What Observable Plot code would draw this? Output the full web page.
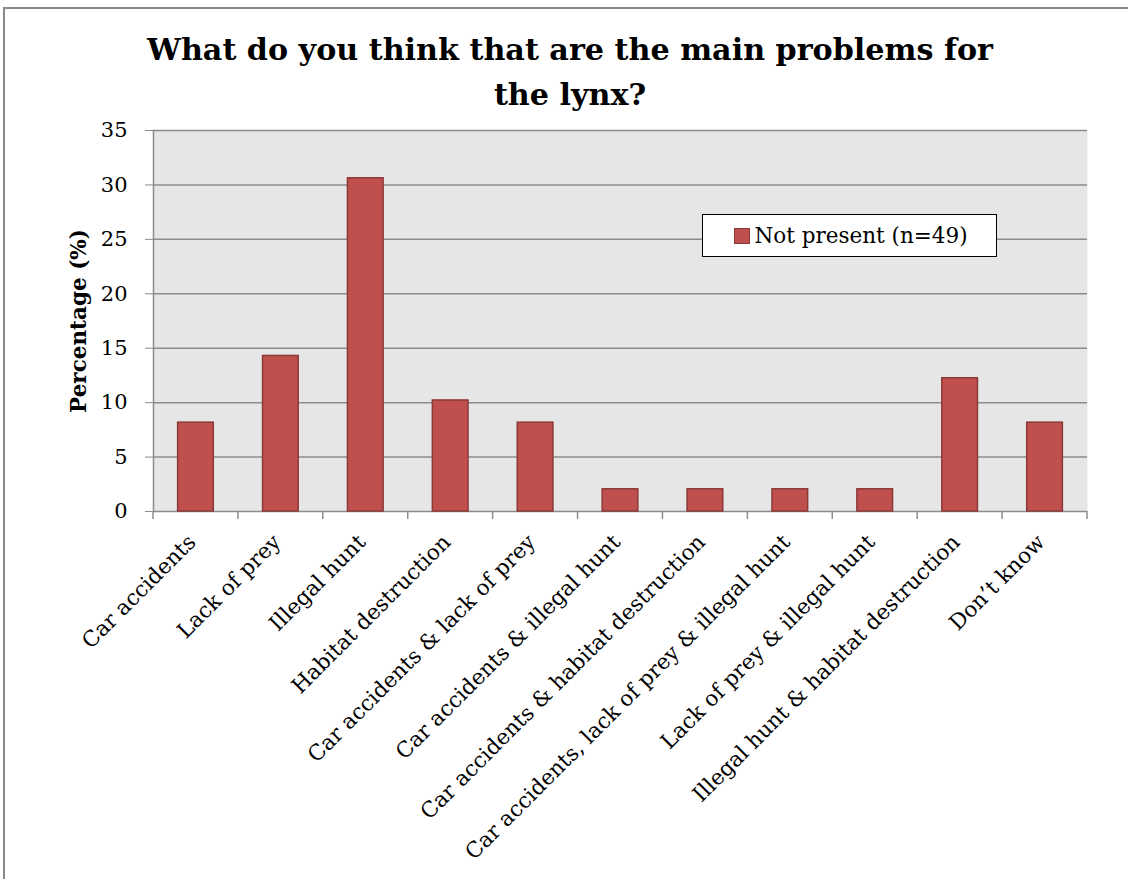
<!DOCTYPE html>
<html>
<head>
<meta charset="utf-8">
<script src="https://cdn.jsdelivr.net/npm/d3@7"></script>
<script src="https://cdn.jsdelivr.net/npm/@observablehq/plot@0.6"></script>
<style>
  html, body { margin: 0; padding: 0; background: #fff; }
  body { width: 1128px; height: 879px; position: relative; overflow: hidden; }
  #frame { position: absolute; left: 3px; top: 7px; width: 1200px; height: 1000px;
           border-left: 2px solid #8a8a8a; border-top: 2px solid #8a8a8a; }
  #title { position: absolute; left: 0; top: 27px; width: 1140px; text-align: center;
           font-family: "DejaVu Serif", serif; font-weight: bold; font-size: 30.2px;
           line-height: 45px; color: #000; }
  #chart { position: absolute; left: 0; top: 0; }
  #legend { position: absolute; left: 702px; top: 214px; width: 295px; height: 43px;
            background: #fff; border: 1.5px solid #000; box-sizing: border-box;
            font-family: "DejaVu Serif", serif; font-size: 21.5px; color: #000;
            display: flex; align-items: center; padding-left: 30.5px; }
  #legend .sw { width: 16px; height: 16px; background: #c0504d; border: 1px solid #8c3836;
                box-sizing: border-box; margin-right: 5px; }
</style>
</head>
<body>
<div id="frame"></div>
<div id="chart"></div>
<div id="title">What do you think that are the main problems for<br>the lynx?</div>
<div id="legend"><span class="sw"></span><span id="legendText"></span></div>
<script>
const categories = [
  "Car accidents",
  "Lack of prey",
  "Illegal hunt",
  "Habitat destruction",
  "Car accidents & lack of prey",
  "Car accidents & illegal hunt",
  "Car accidents & habitat destruction",
  "Car accidents, lack of prey & illegal hunt",
  "Lack of prey & illegal hunt",
  "Illegal hunt & habitat destruction",
  "Don\u2019t know"
];
const seriesName = "Not present (n=49)";
const values = [8.16, 14.29, 30.61, 10.20, 8.16, 2.04, 2.04, 2.04, 2.04, 12.24, 8.16];
const yTicks = [0, 5, 10, 15, 20, 25, 30, 35];
const yLabel = "Percentage (%)";

const data = categories.map((c, i) => ({category: c, value: values[i]}));
document.getElementById("legendText").textContent = seriesName;

const FONT = "DejaVu Serif, serif";

// boundary tick marks between categories (Excel-style)
const boundaryTicks = (index, scales) => {
  const x = scales.x, y = scales.y;
  const bw = x.bandwidth ? x.bandwidth() : 0;
  const step = x.step ? x.step() : 0;
  const y0 = y(0);
  const g = document.createElementNS("http://www.w3.org/2000/svg", "g");
  const edges = categories.map(c => x(c) + bw / 2 - step / 2);
  edges.push(x(categories[categories.length - 1]) + bw / 2 + step / 2);
  for (const ex of edges) {
    const l = document.createElementNS("http://www.w3.org/2000/svg", "line");
    l.setAttribute("x1", ex); l.setAttribute("x2", ex);
    l.setAttribute("y1", y0); l.setAttribute("y2", y0 + 8);
    l.setAttribute("stroke", "#8c8c8c"); l.setAttribute("stroke-width", 1.5);
    g.appendChild(l);
  }
  return g;
};

const chart = Plot.plot({
  width: 1128,
  height: 879,
  marginTop: 130,
  marginLeft: 153,
  marginRight: 41,
  marginBottom: 368,
  style: {fontFamily: FONT, background: "transparent", overflow: "visible"},
  x: {domain: categories, paddingInner: 0.58, paddingOuter: 0.29, round: false, axis: null, label: null},
  y: {domain: [0, 35], label: null},
  marks: [
    Plot.frame({fill: "#e6e6e6", stroke: null}),
    Plot.ruleY(yTicks, {stroke: "#8c8c8c", strokeWidth: 1.5}),
    Plot.rectY(data, {x: "category", y: "value", fill: "#c0504d", stroke: "#8c3836", strokeWidth: 1.5}),
    Plot.frame({anchor: "left", stroke: "#8c8c8c", strokeWidth: 1.5}),
    Plot.axisY({ticks: yTicks, tickSize: 8, tickPadding: 18, fontSize: 21, stroke: "#8c8c8c",
                label: null, tickFormat: d => String(d)}),
    boundaryTicks,
    Plot.text(categories, {x: d => d, frameAnchor: "bottom", dy: 32, dx: 1, rotate: -45,
                           textAnchor: "end", fontSize: 21.5, fill: "#000"}),
    Plot.text([yLabel], {frameAnchor: "left", dx: -74, rotate: -90, textAnchor: "middle",
                         fontWeight: "bold", fontSize: 21.5, fill: "#000"})
  ]
});
document.getElementById("chart").appendChild(chart);
</script>
</body>
</html>
